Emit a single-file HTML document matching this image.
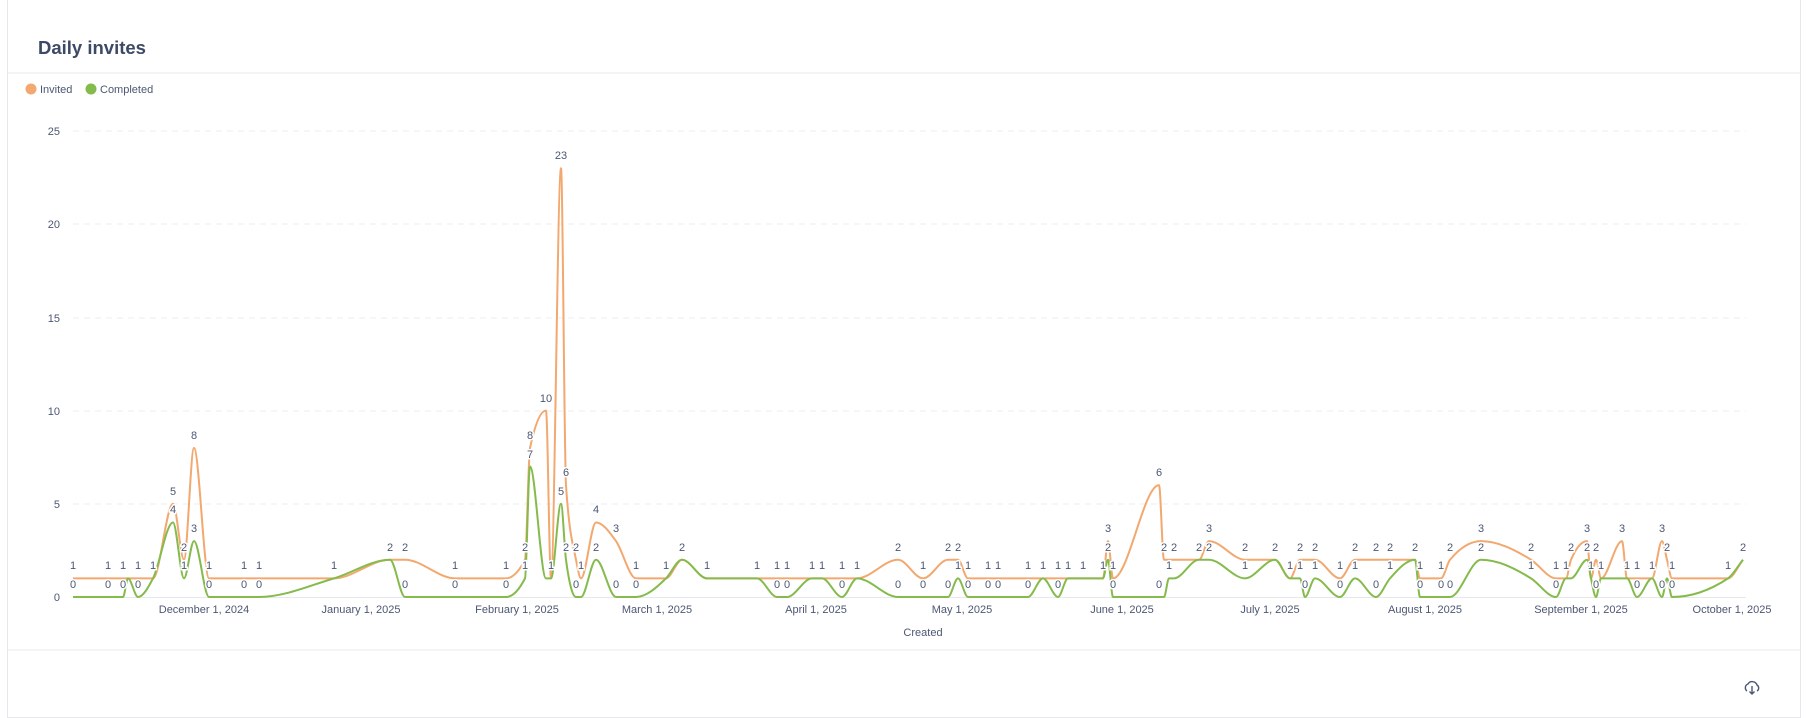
<!DOCTYPE html>
<html><head><meta charset="utf-8"><style>
html,body{margin:0;padding:0;background:#fff;width:1806px;height:706px;overflow:hidden;font-family:"Liberation Sans",sans-serif;}
.card{position:absolute;left:7px;top:-2px;width:1794px;height:720px;border:1px solid #e6e8ec;box-sizing:border-box;}
</style></head><body>
<div class="card"></div>
<svg width="1806" height="706" style="position:absolute;left:0;top:0" font-family="Liberation Sans, sans-serif">
<text x="38" y="54" font-size="18.5" font-weight="bold" fill="#3d4a66">Daily invites</text>
<line x1="8" y1="73" x2="1801" y2="73" stroke="#e6e8ec"/>
<line x1="8" y1="650" x2="1801" y2="650" stroke="#e6e8ec"/>
<circle cx="31" cy="89" r="5.5" fill="#F2A86F"/><text x="40" y="93" font-size="11" fill="#4c5773">Invited</text>
<circle cx="91" cy="89" r="5.5" fill="#84BB4C"/><text x="100" y="93" font-size="11" fill="#4c5773">Completed</text>
<g stroke="#ebedf0" stroke-dasharray="6,5">
<line x1="73" x2="1746" y1="131" y2="131"/><line x1="73" x2="1746" y1="224" y2="224"/><line x1="73" x2="1746" y1="318" y2="318"/><line x1="73" x2="1746" y1="411" y2="411"/><line x1="73" x2="1746" y1="504" y2="504"/></g>
<line x1="73" x2="1746" y1="597.5" y2="597.5" stroke="#e6e8ec"/>
<g font-size="11" fill="#4c5773" text-anchor="end">
<text x="60" y="601">0</text><text x="60" y="508">5</text><text x="60" y="415">10</text><text x="60" y="322">15</text><text x="60" y="228">20</text><text x="60" y="135">25</text></g>
<g font-size="11" fill="#4c5773" text-anchor="middle">
<text x="204" y="613">December 1, 2024</text><text x="361" y="613">January 1, 2025</text><text x="517" y="613">February 1, 2025</text><text x="657" y="613">March 1, 2025</text><text x="816" y="613">April 1, 2025</text><text x="962" y="613">May 1, 2025</text><text x="1122" y="613">June 1, 2025</text><text x="1270" y="613">July 1, 2025</text><text x="1425" y="613">August 1, 2025</text><text x="1581" y="613">September 1, 2025</text><text x="1732" y="613">October 1, 2025</text>
<text x="923" y="636">Created</text></g>
<path id="pi" fill="none" stroke="#F2A86F" stroke-width="2"/>
<path id="pc" fill="none" stroke="#84BB4C" stroke-width="2"/>
<g font-size="11" fill="#4c5773" text-anchor="middle" stroke="#fff" stroke-width="3" paint-order="stroke">
<text x="73" y="569">1</text><text x="73" y="588">0</text>
<text x="108" y="569">1</text><text x="108" y="588">0</text>
<text x="123" y="569">1</text><text x="123" y="588">0</text>
<text x="138" y="569">1</text><text x="138" y="588">0</text>
<text x="153" y="569">1</text>
<text x="173" y="495">5</text><text x="173" y="513">4</text>
<text x="184" y="551">2</text><text x="184" y="569">1</text>
<text x="194" y="439">8</text><text x="194" y="532">3</text>
<text x="209" y="569">1</text><text x="209" y="588">0</text>
<text x="244" y="569">1</text><text x="244" y="588">0</text>
<text x="259" y="569">1</text><text x="259" y="588">0</text>
<text x="334" y="569">1</text>
<text x="390" y="551">2</text>
<text x="405" y="551">2</text><text x="405" y="588">0</text>
<text x="455" y="569">1</text><text x="455" y="588">0</text>
<text x="506" y="569">1</text><text x="506" y="588">0</text>
<text x="525" y="551">2</text><text x="525" y="569">1</text>
<text x="530" y="439">8</text><text x="530" y="458">7</text>
<text x="546" y="402">10</text>
<text x="551" y="569">1</text>
<text x="561" y="159">23</text><text x="561" y="495">5</text>
<text x="566" y="476">6</text><text x="566" y="551">2</text>
<text x="576" y="551">2</text><text x="576" y="588">0</text>
<text x="581" y="569">1</text>
<text x="596" y="513">4</text><text x="596" y="551">2</text>
<text x="616" y="532">3</text><text x="616" y="588">0</text>
<text x="636" y="569">1</text><text x="636" y="588">0</text>
<text x="666" y="569">1</text>
<text x="682" y="551">2</text>
<text x="707" y="569">1</text>
<text x="757" y="569">1</text>
<text x="777" y="569">1</text><text x="777" y="588">0</text>
<text x="787" y="569">1</text><text x="787" y="588">0</text>
<text x="812" y="569">1</text><text x="822" y="569">1</text>
<text x="842" y="569">1</text><text x="842" y="588">0</text>
<text x="857" y="569">1</text>
<text x="898" y="551">2</text><text x="898" y="588">0</text>
<text x="923" y="569">1</text><text x="923" y="588">0</text>
<text x="948" y="551">2</text><text x="948" y="588">0</text>
<text x="958" y="551">2</text><text x="958" y="569">1</text>
<text x="968" y="569">1</text><text x="968" y="588">0</text>
<text x="988" y="569">1</text><text x="988" y="588">0</text>
<text x="998" y="569">1</text><text x="998" y="588">0</text>
<text x="1028" y="569">1</text><text x="1028" y="588">0</text>
<text x="1043" y="569">1</text>
<text x="1058" y="569">1</text><text x="1058" y="588">0</text>
<text x="1068" y="569">1</text><text x="1083" y="569">1</text><text x="1103" y="569">1</text>
<text x="1108" y="532">3</text><text x="1108" y="551">2</text>
<text x="1113" y="569">1</text><text x="1113" y="588">0</text>
<text x="1159" y="476">6</text><text x="1159" y="588">0</text>
<text x="1164" y="551">2</text><text x="1169" y="569">1</text>
<text x="1174" y="551">2</text>
<text x="1199" y="551">2</text>
<text x="1209" y="532">3</text><text x="1209" y="551">2</text>
<text x="1245" y="551">2</text><text x="1245" y="569">1</text>
<text x="1275" y="551">2</text>
<text x="1290" y="569">1</text>
<text x="1300" y="551">2</text><text x="1300" y="569">1</text><text x="1305" y="588">0</text>
<text x="1315" y="551">2</text><text x="1315" y="569">1</text>
<text x="1340" y="569">1</text><text x="1340" y="588">0</text>
<text x="1355" y="551">2</text><text x="1355" y="569">1</text>
<text x="1376" y="551">2</text><text x="1376" y="588">0</text>
<text x="1390" y="551">2</text><text x="1390" y="569">1</text>
<text x="1415" y="551">2</text>
<text x="1420" y="569">1</text><text x="1420" y="588">0</text>
<text x="1441" y="569">1</text><text x="1441" y="588">0</text>
<text x="1450" y="551">2</text><text x="1450" y="588">0</text>
<text x="1481" y="532">3</text><text x="1481" y="551">2</text>
<text x="1531" y="551">2</text><text x="1531" y="569">1</text>
<text x="1556" y="569">1</text><text x="1556" y="588">0</text>
<text x="1566" y="569">1</text>
<text x="1571" y="551">2</text>
<text x="1587" y="532">3</text><text x="1587" y="551">2</text>
<text x="1591" y="569">1</text><text x="1596" y="551">2</text><text x="1596" y="588">0</text>
<text x="1601" y="569">1</text>
<text x="1622" y="532">3</text>
<text x="1627" y="569">1</text>
<text x="1637" y="569">1</text><text x="1637" y="588">0</text>
<text x="1652" y="569">1</text>
<text x="1662" y="532">3</text><text x="1662" y="588">0</text>
<text x="1667" y="551">2</text>
<text x="1672" y="569">1</text><text x="1672" y="588">0</text>
<text x="1728" y="569">1</text>
<text x="1743" y="551">2</text>
</g>
<g transform="translate(1752,688)" fill="none" stroke="#4c5773" stroke-width="1.4">
<path d="M-5,3 A4,4 0 0 1 -4,-4 A5,5 0 0 1 5,-3 A3.5,3.5 0 0 1 5,3"/><path d="M0,-2 V6 M-2.5,3.5 L0,6 L2.5,3.5"/></g>
</svg>
<script>
var D=[[73,1,0],[108,1,0],[123,1,0],[128,1,1],[138,1,0],[153,1,1],[173,5,4],[184,2,1],[194,8,3],[209,1,0],[244,1,0],[259,1,0],[334,1,1],[390,2,2],[405,2,0],[455,1,0],[506,1,0],[525,2,1],[530,8,7],[546,10,1],[551,1,1],[561,23,5],[566,6,2],[576,2,0],[581,1,0],[596,4,2],[616,3,0],[636,1,0],[666,1,1],[682,2,2],[707,1,1],[757,1,1],[777,1,0],[787,1,0],[812,1,1],[822,1,1],[842,1,0],[857,1,1],[898,2,0],[923,1,0],[948,2,0],[958,2,1],[968,1,0],[988,1,0],[998,1,0],[1028,1,0],[1043,1,1],[1058,1,0],[1068,1,1],[1083,1,1],[1103,1,1],[1108,3,2],[1113,1,0],[1159,6,0],[1164,2,0],[1169,2,1],[1174,2,1],[1199,2,2],[1209,3,2],[1245,2,1],[1275,2,2],[1290,1,1],[1300,2,1],[1305,2,0],[1315,2,1],[1340,1,0],[1355,2,1],[1376,2,0],[1390,2,1],[1415,2,2],[1420,1,0],[1441,1,0],[1450,2,0],[1481,3,2],[1531,2,1],[1556,1,0],[1566,1,1],[1571,2,1],[1587,3,2],[1591,1,1],[1596,2,0],[1601,1,1],[1622,3,1],[1627,1,1],[1637,1,0],[1652,1,1],[1662,3,0],[1667,2,1],[1672,1,0],[1728,1,1],[1743,2,2]];
function Y(v){return 597-v*18.64;}
function mono(xs,ys){var n=xs.length,d=[],m=[];for(var i=0;i<n-1;i++)d.push((ys[i+1]-ys[i])/(xs[i+1]-xs[i]));
m[0]=d[0];m[n-1]=d[n-2];for(i=1;i<n-1;i++){if(d[i-1]*d[i]<=0)m[i]=0;else{var h0=xs[i]-xs[i-1],h1=xs[i+1]-xs[i];var s=(d[i-1]*h1+d[i]*h0)/(h0+h1);m[i]=Math.sign(s)*Math.min(Math.abs(s),2*Math.abs(d[i-1]),2*Math.abs(d[i]));}}
var p="M"+xs[0]+","+ys[0];for(i=0;i<n-1;i++){var h=(xs[i+1]-xs[i])/3;p+="C"+(xs[i]+h)+","+(ys[i]+m[i]*h)+" "+(xs[i+1]-h)+","+(ys[i+1]-m[i+1]*h)+" "+xs[i+1]+","+ys[i+1];}return p;}
var xs=D.map(function(a){return a[0]});
document.getElementById('pi').setAttribute('d',mono(xs,D.map(function(a){return Y(a[1])})));
document.getElementById('pc').setAttribute('d',mono(xs,D.map(function(a){return Y(a[2])})));
</script>
</body></html>
